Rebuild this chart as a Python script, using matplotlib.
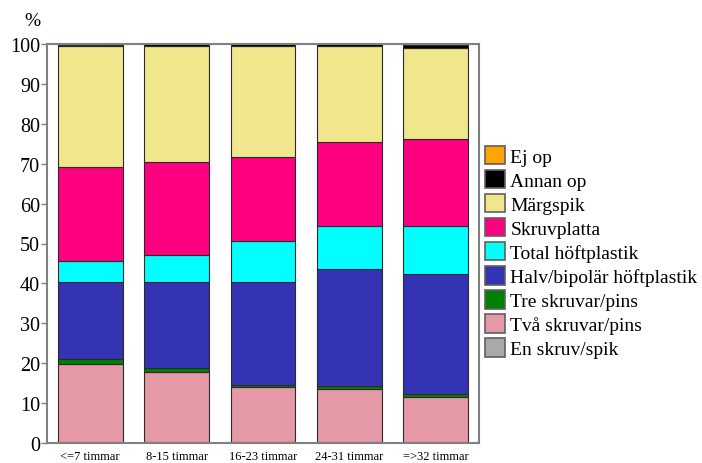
import matplotlib
matplotlib.use("Agg")
import matplotlib.pyplot as plt
import numpy as np

plt.rcParams['font.family'] = ['Liberation Serif', 'DejaVu Serif']

categories = ["<=7 timmar", "8-15 timmar", "16-23 timmar", "24-31 timmar", "=>32 timmar"]

# Share (%) per operation method, bottom to top
en_skruv = [0.2, 0.2, 0.2, 0.2, 0.2]
tva_skruvar = [19.7, 17.5, 13.8, 13.4, 11.3]
tre_skruvar = [1.2, 1.0, 0.6, 0.6, 0.9]
halv_bipolar = [19.3, 21.7, 25.8, 29.3, 29.9]
total_hoft = [5.2, 6.8, 10.2, 11.0, 12.2]
skruvplatta = [23.6, 23.2, 21.2, 20.9, 21.6]
margspik = [30.3, 29.2, 27.8, 24.0, 22.8]
annan_op = [0.3, 0.3, 0.3, 0.5, 0.9]
ej_op = [0.2, 0.1, 0.1, 0.1, 0.2]

series = [
    ("En skruv/spik", en_skruv, "#A9A9A9"),
    ("Två skruvar/pins", tva_skruvar, "#E599A6"),
    ("Tre skruvar/pins", tre_skruvar, "#008000"),
    ("Halv/bipolär höftplastik", halv_bipolar, "#3333B3"),
    ("Total höftplastik", total_hoft, "#00FFFF"),
    ("Skruvplatta", skruvplatta, "#FF0080"),
    ("Märgspik", margspik, "#F0E68C"),
    ("Annan op", annan_op, "#000000"),
    ("Ej op", ej_op, "#FFA500"),
]

fig = plt.figure(figsize=(7.02, 4.64), dpi=100)
ax = fig.add_axes([47 / 702, 1 - 444 / 464, (479 - 47) / 702, (444 - 45) / 464])

x = np.arange(len(categories))
bottom = np.zeros(len(categories))
handles = []
for label, vals, color in series:
    vals = np.array(vals, dtype=float)
    bars = ax.bar(x, vals, width=0.75, bottom=bottom, color=color,
                  edgecolor="#2a2a2a", linewidth=0.8, label=label)
    handles.append(bars)
    bottom += vals

ax.set_xlim(-0.5, 4.5)
ax.set_ylim(0, 100)
ax.set_yticks(np.arange(0, 101, 10))
ax.set_xticks(x)
ax.set_xticklabels(categories, fontsize=9)
ax.tick_params(axis='y', labelsize=14.5, length=4, width=1, color="#808080", pad=1)
ax.tick_params(axis='x', length=0, pad=5)
for s in ax.spines.values():
    s.set_color("#808080")
    s.set_linewidth(1.5)

fig.text(32 / 702, 1 - 21 / 464, "%", fontsize=14, ha="center", va="center")

leg = fig.legend(handles[::-1], [s[0] for s in series][::-1],
                 loc="upper left", bbox_to_anchor=(485 / 702, 1 - 147 / 464),
                 frameon=False, fontsize=14, handlelength=1.03, handleheight=1.07,
                 labelspacing=0.22, handletextpad=0.27, borderpad=0, borderaxespad=0)
for p in leg.get_patches():
    p.set_edgecolor("#606060")
    p.set_linewidth(1.2)

fig.savefig("out.png", dpi=100)
